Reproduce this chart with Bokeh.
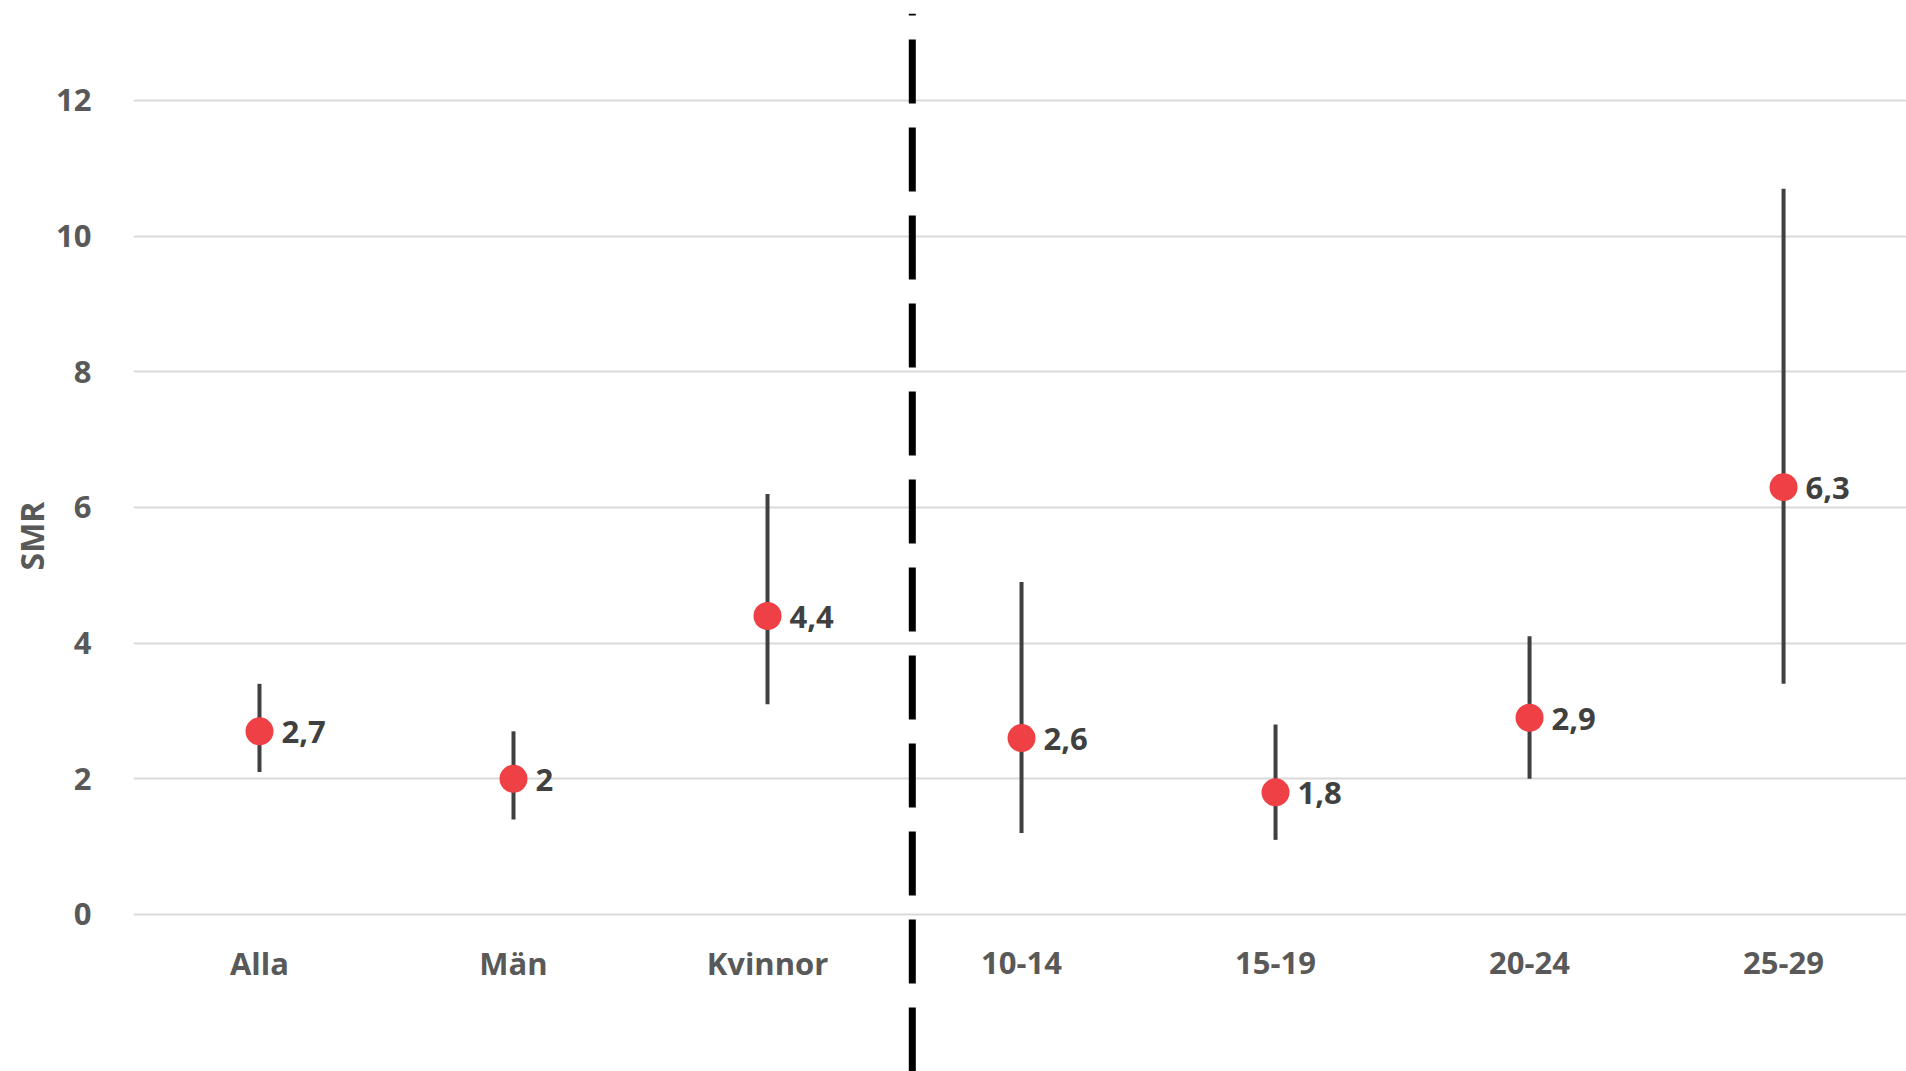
import numpy as np
from bokeh.plotting import figure
from bokeh.models import ColumnDataSource, FixedTicker, Range1d
from bokeh.core.properties import value
from bokeh.embed import file_html
from bokeh.resources import INLINE

# ---- data ----
categories = ["Alla", "Män", "Kvinnor", "10-14", "15-19", "20-24", "25-29"]
smr = [2.7, 2.0, 4.4, 2.6, 1.8, 2.9, 6.3]
ci_low = [2.1, 1.4, 3.1, 1.2, 1.1, 2.0, 3.4]
ci_high = [3.4, 2.7, 6.2, 4.9, 2.8, 4.1, 10.7]
labels = ["2,7", "2", "4,4", "2,6", "1,8", "2,9", "6,3"]
y_ticks = [0, 2, 4, 6, 8, 10, 12]
y_title = "SMR"
divider_x = 2.57          # between "Kvinnor" and "10-14"
divider_y = (-2.315, 13.28)
cat_label_y = -0.72

FONT = "Open Sans"
FS = "31px"
xs = np.arange(len(categories))

src = ColumnDataSource(dict(x=xs, cat=categories, smr=smr, lo=ci_low, hi=ci_high,
                            lab=labels, cy=[cat_label_y] * len(categories)))

p = figure(width=1906, height=1071, output_backend="svg", toolbar_location=None,
           x_range=Range1d(-0.496, 6.484), y_range=Range1d(-2.315, 13.474),
           x_axis_location=None, y_axis_location="left",
           min_border_left=133, min_border_right=0, min_border_top=0, min_border_bottom=0)
p.outline_line_color = None
p.background_fill_color = "white"
p.border_fill_color = "white"

# y axis
p.yaxis.ticker = FixedTicker(ticks=y_ticks)
p.yaxis.axis_line_color = None
p.yaxis.major_tick_line_color = None
p.yaxis.minor_tick_line_color = None
p.yaxis.major_label_standoff = 36
p.yaxis.major_label_text_font = FONT
p.yaxis.major_label_text_font_style = "bold"
p.yaxis.major_label_text_font_size = FS
p.yaxis.major_label_text_color = "#595959"
p.yaxis.axis_label = y_title
p.yaxis.axis_label_standoff = 0
p.yaxis.axis_label_text_font = FONT
p.yaxis.axis_label_text_font_style = "bold"
p.yaxis.axis_label_text_font_size = "32px"
p.yaxis.axis_label_text_color = "#595959"

p.xgrid.grid_line_color = None
p.ygrid.ticker = FixedTicker(ticks=y_ticks)
p.ygrid.grid_line_color = "#D9D9D9"
p.ygrid.grid_line_width = 2

# divider
p.segment(x0=[divider_x], y0=[divider_y[0]], x1=[divider_x], y1=[divider_y[1]],
          line_color="black", line_width=7, line_dash="64 24")

# error bars
p.segment(x0="x", y0="lo", x1="x", y1="hi", source=src, line_color="#404040", line_width=4)

# points
p.scatter(x="x", y="smr", source=src, size=28, fill_color="#EE4045", line_color=None)

# value labels
p.text(x="x", y="smr", text="lab", source=src, x_offset=22, y_offset=1,
       text_align="left", text_baseline="middle", text_color="#404040",
       text_font=value(FONT), text_font_style="bold", text_font_size=FS)

# category labels
p.text(x="x", y="cy", text="cat", source=src,
       text_align="center", text_baseline="middle", text_color="#595959",
       text_font=value(FONT), text_font_style="bold", text_font_size=FS)

open("out.html", "w").write(file_html(p, INLINE))
